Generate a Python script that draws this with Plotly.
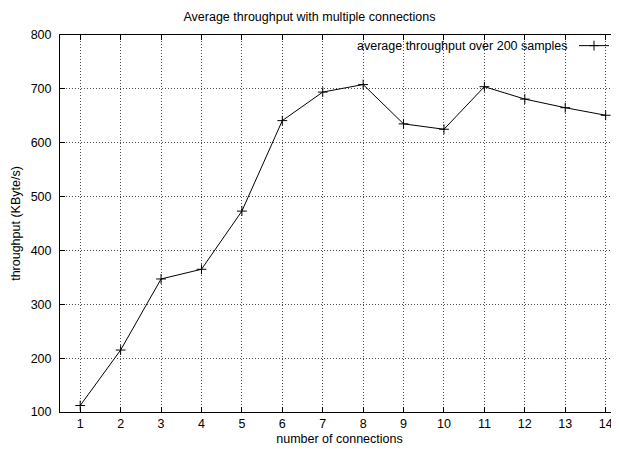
import plotly.graph_objects as go

connections = [1, 2, 3, 4, 5, 6, 7, 8, 9, 10, 11, 12, 13, 14]
throughput = [112, 215, 347, 365, 473, 641, 694, 708, 635, 625, 704, 681, 665, 651]
x_ticks = list(range(1, 15))
y_ticks = [100, 200, 300, 400, 500, 600, 700, 800]

series_name = "average throughput over 200 samples"
title_text = "Average throughput with multiple connections"
x_title = "number of connections"
y_title = "throughput (KByte/s)"

font_family = "Liberation Sans, Arial, sans-serif"
fs = 12.5

# page is offset by the 8px default body margin
OFF = 8
W, H = 619 - OFF, 450 - OFF
left, top, bottom = 60 - OFF, 35 - OFF, 411.7 - OFF
plot_w = W - left
plot_h = bottom - top

fig = go.Figure()
fig.add_trace(go.Scatter(
    x=connections, y=throughput, mode="lines+markers",
    name=" ",
    line=dict(color="black", width=1),
    marker=dict(symbol="cross-thin-open", size=7, line=dict(color="black", width=1), color="black"),
    showlegend=True,
))

axis_common = dict(
    showline=True, linecolor="black", linewidth=1,
    ticks="inside", ticklen=5, tickcolor="black", tickwidth=1,
    showgrid=True, gridcolor="rgba(0,0,0,0.7)", griddash="1px,2px", gridwidth=1,
    zeroline=False, ticklabeloverflow="allow",
    tickfont=dict(family=font_family, size=fs, color="black"),
    title_font=dict(family=font_family, size=fs, color="black"),
)

fig.update_xaxes(range=[0.5, 14.33], tickvals=x_ticks, title_text=x_title, title_standoff=4,
                 mirror="ticks", **axis_common)
fig.update_yaxes(range=[100, 800], tickvals=y_ticks, title_text=y_title, title_standoff=7,
                 mirror=False, ticklabelstandoff=5, **axis_common)

legend_y = (bottom - (46 - OFF)) / plot_h
fig.add_annotation(
    xref="paper", yref="paper", x=(570 - OFF - left) / plot_w, y=legend_y,
    xanchor="right", yanchor="middle", text=series_name, showarrow=False,
    font=dict(family=font_family, size=fs, color="black"),
)

fig.update_layout(
    width=W, height=H,
    margin=dict(l=left, r=0, t=top, b=H - bottom, autoexpand=False),
    paper_bgcolor="white", plot_bgcolor="white",
    title=dict(text=title_text, x=(309.5 - OFF - left) / plot_w, xref="paper", xanchor="center",
               y=1 - (17 - OFF) / H, yanchor="middle",
               font=dict(family=font_family, size=fs, color="black")),
    legend=dict(x=(574 - OFF - left) / plot_w, y=legend_y, xanchor="left", yanchor="middle",
                bgcolor="rgba(0,0,0,0)", borderwidth=0, font=dict(size=fs), itemwidth=30,
                tracegroupgap=0),
    font=dict(family=font_family, size=fs, color="black"),
)

fig.write_html("out.html")
